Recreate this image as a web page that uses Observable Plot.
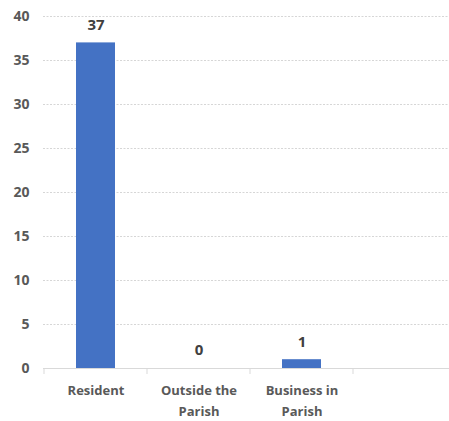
<!DOCTYPE html>
<html><head><meta charset="utf-8">
<script src="https://cdn.jsdelivr.net/npm/d3@7"></script>
<script src="https://cdn.jsdelivr.net/npm/@observablehq/plot@0.6"></script>
<style>body{margin:0;background:#fff}svg{display:block}</style>
</head><body><div id="chart"></div>
<script>
const categories = ["Resident", "Outside the Parish", "Business in Parish", ""];
const labels = ["Resident", "Outside the\nParish", "Business in\nParish", ""];
const values = [37, 0, 1, null];
const yTicks = [0, 5, 10, 15, 20, 25, 30, 35, 40];

const data = categories.slice(0, 3).map((c, i) => ({cat: c, value: values[i], label: labels[i]}));
const font = "'Open Sans', Lato, sans-serif";

const plot = Plot.plot({
  width: 449, height: 421,
  marginTop: 16, marginBottom: 53, marginLeft: 43, marginRight: 0,
  style: {fontFamily: font, background: "#fff"},
  x: {domain: categories, range: [43, 457], padding: 0, axis: null},
  y: {domain: [0, 40], axis: null},
  marks: [
    Plot.ruleY(yTicks.filter(d => d > 0), {stroke: "#d6d6d6", strokeDasharray: "2,1.5", strokeWidth: 1}),
    Plot.barY(data, {x: "cat", y: "value", fill: "#4472c4", insetLeft: 32, insetRight: 32}),
    Plot.ruleY([0], {stroke: "#d9d9d9", strokeWidth: 1}),
    Plot.text(yTicks, {y: d => d, frameAnchor: "left", dx: 29 - 43, textAnchor: "end", fill: "#595959", fontSize: 14, fontWeight: "bold"}),
    Plot.text(data, {x: "cat", y: "value", text: d => String(d.value), dy: -18, fill: "#404040", fontSize: 15, fontWeight: "bold"}),
    Plot.text(data, {x: "cat", y: 0, text: "label", dy: 12, lineAnchor: "top", lineHeight: 1.6, fill: "#595959", fontSize: 13, fontWeight: "bold"})
  ]
});

// category boundary tick marks on the x axis, placed with Plot's own x scale
const xs = plot.scale("x");
const ys = plot.scale("y");
const y0 = ys.apply(0);
const g = d3.select(plot).append("g").attr("stroke", "#d9d9d9");
categories.forEach(c => {
  const left = xs.apply(c);
  g.append("line").attr("x1", left).attr("x2", left).attr("y1", y0).attr("y2", y0 + 6);
});
document.getElementById("chart").append(plot);
</script>
</body></html>
